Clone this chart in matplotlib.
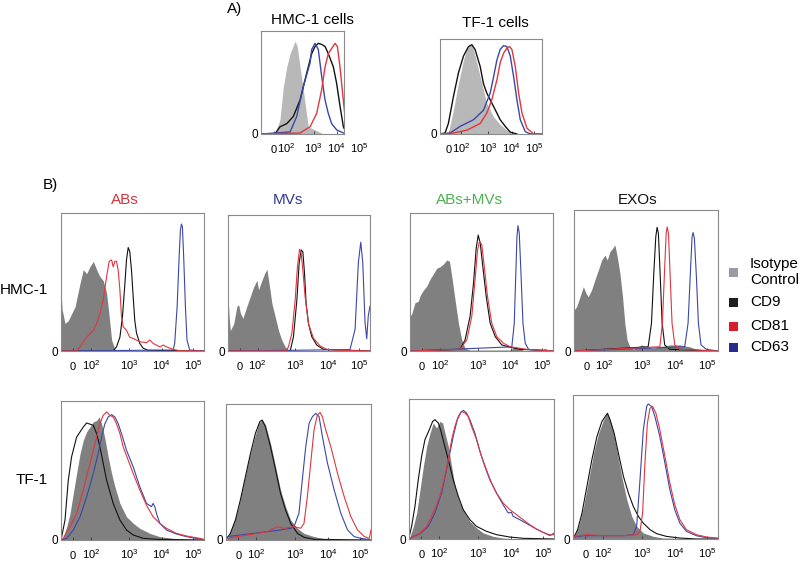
import matplotlib
matplotlib.use('Agg')
import matplotlib.pyplot as plt
from matplotlib.patches import Rectangle

plt.rcParams['font.family'] = ['Liberation Sans', 'DejaVu Sans']
plt.rcParams['mathtext.default'] = 'regular'

# x 轴：0-1000 通道，刻度对应 0, 10^2 ... 10^5
TICK_POS = [85, 208, 475, 703, 925]
TICK_LABELS = ['0', '$10^2$', '$10^3$', '$10^4$', '$10^5$']

MARKERS = ['Isotype\nControl', 'CD9', 'CD81', 'CD63']
MARKER_COLORS = ['#9b9ba8', '#1e1e1e', '#d81e2c', '#262b8c']
COLUMNS = ['ABs', 'MVs', 'ABs+MVs', 'EXOs']
COLUMN_COLORS = ['#d4343c', '#2e3a8c', '#4cb050', '#111111']
ROWS = ['HMC-1', 'TF-1']

# ---- A) HMC-1 cells ----
A_HMC_ISO_X = [0, 137, 186, 219, 252, 285, 317, 334, 356, 383, 415, 441, 464, 530, 611, 814]
A_HMC_ISO_Y = [0, 0, 14, 46, 65, 78, 86, 90, 85, 65, 43, 23, 7, 4, 0, 0]
A_HMC_CD9_X = [0, 137, 186, 252, 317, 383, 448, 497, 530, 562, 595, 628, 660, 710, 742, 775, 808, 840, 857]
A_HMC_CD9_Y = [0, 0, 7, 10, 17, 33, 59, 78, 85, 88, 87, 85, 78, 65, 49, 27, 7, 0, 0]
A_HMC_CD81_X = [0, 383, 481, 546, 595, 628, 660, 693, 726, 749, 775, 801, 824, 857]
A_HMC_CD81_Y = [0, 1, 7, 20, 43, 65, 78, 83, 88, 85, 65, 39, 17, 4]
A_HMC_CD63_X = [0, 285, 350, 415, 481, 497, 530, 562, 595, 628, 660, 693, 742, 808]
A_HMC_CD63_Y = [0, 2, 17, 46, 69, 82, 88, 82, 56, 33, 20, 10, 4, 1]

# ---- A) TF-1 cells ----
A_TF_ISO_X = [0, 82, 131, 180, 230, 262, 295, 321, 361, 410, 459, 525, 590, 656, 722, 787]
A_TF_ISO_Y = [0, 1, 25, 53, 78, 89, 94, 92, 75, 53, 32, 18, 10, 4, 1, 0]
A_TF_CD9_X = [0, 49, 82, 131, 180, 230, 279, 312, 344, 394, 426, 459, 492, 525, 558, 590, 640, 689, 754]
A_TF_CD9_Y = [0, 1, 11, 39, 64, 82, 92, 94, 89, 71, 53, 43, 36, 29, 22, 15, 8, 2, 0]
A_TF_CD81_X = [0, 131, 262, 394, 459, 508, 558, 590, 623, 656, 682, 705, 738, 771, 804, 853, 918, 1000]
A_TF_CD81_Y = [0, 1, 4, 11, 22, 36, 57, 75, 85, 90.5, 92, 89, 71, 43, 22, 6, 0, 0]
A_TF_CD63_X = [0, 98, 197, 328, 426, 492, 525, 558, 590, 623, 656, 689, 722, 754, 787, 836, 886, 1000]
A_TF_CD63_Y = [0, 1, 8, 15, 25, 43, 60, 78, 89, 93, 92, 82, 60, 36, 15, 2.5, 0, 0]

# ---- B) HMC-1, ABs ----
H_ABS_ISO_X = [0, 8, 28, 51, 74, 98, 133, 156, 179, 202, 226, 249, 272, 295, 319, 337, 354, 377, 412]
H_ABS_ISO_Y = [44, 30, 20, 22, 27, 32, 49, 59, 56, 61, 65, 59, 54, 51, 42, 25, 8, 1, 0]
H_ABS_CD9_X = [0, 365, 388, 412, 430, 447, 458, 470, 481, 493, 505, 516, 528, 551, 575, 609, 1000]
H_ABS_CD9_Y = [0, 0, 3, 10, 25, 49, 66, 75, 72, 58.5, 39, 22, 13, 5.5, 2, 0.5, 0]
H_ABS_CD81_X = [0, 109, 133, 179, 226, 249, 272, 295, 319, 337, 354, 365, 377, 388, 400, 412, 423, 435,
                458, 481, 505, 551, 598, 621, 644, 667, 691, 714, 737, 784, 830, 1000]
H_ABS_CD81_Y = [0, 0, 3, 10, 15, 20, 27, 37, 54, 65, 66, 61, 65, 65, 58.5, 44, 25, 17.6,
                15, 10, 9, 6.7, 6, 8, 5.5, 4.3, 3, 4.3, 3, 1.2, 0.2, 0]
H_ABS_CD63_X = [0, 784, 795, 812, 826, 835, 842, 849, 858, 870, 881, 900, 1000]
H_ABS_CD63_Y = [0, 0.7, 5.5, 32, 68, 87.5, 92, 90, 68, 32, 8, 0.7, 0]

# ---- B) HMC-1, MVs ----
H_MVS_ISO_X = [0, 8, 16, 40, 63, 75, 87, 105, 133, 157, 180, 204, 215, 239, 262, 274, 293, 309, 333,
               356, 379, 403, 426, 460]
H_MVS_ISO_Y = [42, 25, 15, 20, 33, 34, 28, 24, 33, 40, 47, 52, 45, 52, 58, 60, 47, 35, 25,
               15, 8, 3, 0.7, 0]
H_MVS_CD9_X = [0, 438, 461, 485, 501, 515, 527, 539, 550, 567, 590, 625, 672, 1000]
H_MVS_CD9_Y = [0, 0, 10.5, 37.5, 64.5, 74.3, 73, 57, 35, 20, 10.5, 4.4, 1.2, 0]
H_MVS_CD81_X = [0, 410, 426, 450, 473, 489, 504, 515, 527, 543, 567, 602, 649, 696, 742, 1000]
H_MVS_CD81_Y = [0, 0, 3.2, 13, 37.5, 62, 74.8, 71.8, 59.6, 40, 20, 9.3, 3.7, 1.2, 0.7, 0]
H_MVS_CD63_X = [0, 859, 895, 918, 935, 949, 965, 977, 988, 1000]
H_MVS_CD63_Y = [0, 1, 16, 65, 80, 65, 21, 9, 26, 33]

# ---- B) HMC-1, ABs+MVs ----
H_MIX_ISO_X = [0, 12, 35, 58, 70, 93, 117, 140, 164, 187, 210, 234, 257, 276, 292, 315, 339, 362, 385,
               420, 700, 735, 770, 800, 910, 945, 980]
H_MIX_ISO_Y = [25, 27, 35, 36, 40, 44, 47, 52, 56, 60, 61, 63, 66, 65, 54, 37, 20, 8, 2,
               0.7, 0.7, 3, 2, 0, 0, 2, 0]
H_MIX_CD9_X = [0, 350, 385, 420, 444, 463, 477, 491, 509, 533, 561, 596, 642, 701, 771, 1000]
H_MIX_CD9_Y = [0, 1.2, 8, 25, 49, 74.6, 84, 78.2, 61.3, 39.5, 20, 10.4, 4.4, 2.7, 1.2, 0]
H_MIX_CD81_X = [0, 350, 397, 432, 455, 472, 486, 502, 519, 542, 572, 607, 654, 701, 771, 818, 1000]
H_MIX_CD81_Y = [0, 1.2, 8, 25, 51.6, 73, 79.4, 77, 61.3, 39.5, 20, 10.4, 5.6, 3.1, 1.9, 1.2, 0]
H_MIX_CD63_X = [0, 712, 729, 740, 748, 755, 764, 776, 790, 806, 829, 1000]
H_MIX_CD63_Y = [0, 3, 20, 56.4, 83, 90.8, 85.5, 56.4, 20, 5.6, 1.2, 0]

# ---- B) HMC-1, EXOs ----
H_EXO_ISO_X = [0, 18, 42, 65, 83, 99, 122, 145, 169, 192, 215, 231, 249, 268, 284, 300, 319, 337, 353,
               369, 388, 411, 469, 503, 550, 596, 665, 734, 803, 850, 896, 1000]
H_EXO_ISO_Y = [29, 31.4, 38.5, 45.6, 41, 38.5, 43.3, 50.4, 57.4, 64.5, 68, 64.5, 70.4, 72.8, 75.2, 67, 55,
               38.5, 19.6, 7.8, 3, 1.2, 4.3, 3, 1.9, 3, 4.3, 4.3, 3, 1.2, 0.2, 0]
H_EXO_CD9_X = [0, 515, 538, 554, 568, 577, 586, 598, 612, 630, 665, 1000]
H_EXO_CD9_Y = [0, 3, 19.6, 55, 81, 87.7, 83.5, 55, 19.6, 4.3, 1.2, 0]
H_EXO_CD81_X = [0, 596, 614, 628, 640, 647, 656, 667, 681, 700, 734, 1000]
H_EXO_CD81_Y = [0, 3, 19.6, 55, 83.5, 88, 83.5, 55, 19.6, 4.3, 1.2, 0]
H_EXO_CD63_X = [0, 769, 792, 808, 820, 827, 836, 850, 864, 882, 919, 1000]
H_EXO_CD63_Y = [0, 3, 19.6, 55, 81, 84, 80, 52.7, 19.6, 4.3, 1.2, 0]

# ---- B) TF-1, ABs ----
T_ABS_ISO_X = [0, 16, 40, 63, 86, 109, 133, 156, 179, 202, 226, 249, 267, 284, 307, 330, 354, 377, 412,
               458, 505, 551, 621, 691, 784, 877, 1000]
T_ABS_ISO_Y = [0, 2.4, 9.6, 19, 33.5, 47.8, 62, 71.8, 77.8, 81.3, 85, 86, 88.5, 83.7, 73, 59.8, 47.8, 38.3,
               26.3, 16.7, 12, 8.4, 4.8, 2.4, 1.2, 0.5, 0]
T_ABS_CD9_X = [0, 5, 28, 51, 74, 109, 156, 179, 226, 249, 272, 319, 365, 412, 458, 505, 575, 668, 1000]
T_ABS_CD9_Y = [0, 2.4, 14.4, 43, 59.8, 74, 81.3, 84.2, 82.5, 76.6, 67, 43, 26.3, 14.4, 7.2, 3.6, 1.2, 0.5, 0]
T_ABS_CD81_X = [0, 16, 63, 109, 156, 191, 226, 249, 272, 295, 319, 342, 365, 388, 412, 435, 470, 505, 551,
                598, 644, 691, 737, 807, 877, 970, 1000]
T_ABS_CD81_Y = [0, 1.2, 9.6, 19, 36, 50.2, 64.6, 74.2, 83.7, 89.7, 92.1, 89.7, 88.5, 83.7, 76.6, 67, 57.4,
                47.8, 36, 25, 16.7, 12, 8.4, 4.8, 2.9, 1.2, 0.5]
T_ABS_CD63_X = [0, 40, 86, 133, 179, 226, 260, 284, 307, 330, 354, 377, 400, 423, 458, 505, 551, 598, 633,
                644, 656, 668, 691, 737, 807, 877, 970, 1000]
T_ABS_CD63_Y = [0, 1.2, 7.2, 16.7, 31, 47.8, 62.2, 74.2, 83.7, 88.5, 90.2, 88.5, 83.7, 76.6, 64.6, 52.6,
                38.3, 26.3, 24, 26.3, 24, 19, 12, 7.2, 4.3, 2.4, 0.7, 0]

# ---- B) TF-1, MVs ----
T_MVS_ISO_X = [0, 18, 53, 88, 122, 157, 192, 226, 249, 272, 307, 342, 376, 411, 446, 492, 538, 607, 677,
               746, 1000]
T_MVS_ISO_Y = [0, 2.5, 12.3, 24.5, 41.7, 58.8, 73.5, 85.8, 88.7, 84.6, 71, 53.9, 36.8, 24.5, 14.7, 8.6,
               4.9, 2.5, 1, 0.5, 0]
T_MVS_CD9_X = [0, 7, 30, 65, 99, 134, 169, 203, 233, 249, 272, 307, 342, 376, 411, 446, 492, 538, 607, 1000]
T_MVS_CD9_Y = [0, 1.2, 4.9, 14.7, 29.4, 46.6, 63.7, 78.4, 87, 88.2, 83.3, 68.6, 51.5, 34.3, 22, 12.3,
               4.9, 2, 0.5, 0]
T_MVS_CD81_X = [0, 7, 99, 192, 284, 353, 399, 469, 515, 538, 561, 584, 607, 630, 649, 665, 688, 723, 769,
                815, 861, 907, 954, 988, 1000]
T_MVS_CD81_Y = [0, 1.2, 2.9, 4.4, 6.1, 9.8, 8.6, 9.8, 8.6, 12.3, 31.9, 56.4, 80.9, 91.9, 93.8, 90.7, 80.9,
                68.6, 49, 31.9, 17.2, 7.4, 2.5, 1.2, 7.4]
T_MVS_CD63_X = [0, 7, 99, 192, 284, 376, 446, 469, 503, 526, 550, 573, 596, 619, 642, 665, 700, 746, 792,
                838, 884, 931, 977, 1000]
T_MVS_CD63_Y = [0, 2.5, 3.7, 4.9, 6.1, 7.4, 8.6, 9.8, 19.6, 44.1, 68.6, 85.8, 90.7, 93.1, 90.7, 76, 56.4,
                36.8, 19.6, 7.4, 2.5, 1.2, 0.5, 0]

# ---- B) TF-1, ABs+MVs ----
T_MIX_ISO_X = [0, 7, 30, 53, 76, 99, 122, 145, 167, 190, 213, 232, 248, 271, 294, 317, 351, 385, 420, 466,
               512, 580, 649, 718, 1000]
T_MIX_ISO_Y = [0, 1.9, 9, 18.6, 35.2, 51.9, 66.2, 75.7, 82.9, 79.3, 84, 82.9, 75.7, 66.2, 51.9, 37.6,
               25.7, 18.6, 12.6, 7.9, 4.3, 1.9, 0.7, 0.2, 0]
T_MIX_CD9_X = [0, 2, 18, 41, 64, 87, 110, 140, 163, 179, 202, 218, 241, 271, 305, 340, 374, 420, 466, 534,
               603, 695, 787, 1000]
T_MIX_CD9_Y = [0, 1.9, 9, 23.3, 42.4, 59, 71, 78, 84, 85.2, 82.9, 78, 68.6, 56.7, 42.4, 30.5, 21, 13.8,
               9, 5.5, 3.1, 1.4, 0.5, 0]
T_MIX_CD81_X = [0, 7, 76, 122, 167, 213, 248, 271, 294, 317, 340, 362, 385, 408, 431, 466, 500, 534, 569,
                603, 649, 695, 741, 787, 833, 879, 924, 970, 1000]
T_MIX_CD81_Y = [0, 0.7, 4.3, 9, 18.6, 30.5, 44.8, 56.7, 71, 80.5, 87.6, 91.2, 90, 87.6, 80.5, 71, 59,
                49.5, 40, 32.9, 25.7, 21, 17.4, 13.8, 10.2, 7.1, 4.8, 2.4, 4.3]
T_MIX_CD63_X = [0, 7, 76, 133, 179, 225, 259, 282, 305, 333, 356, 374, 397, 420, 454, 489, 523, 557, 603,
                649, 684, 707, 718, 764, 833, 879, 924, 970, 1000]
T_MIX_CD63_Y = [0, 0.7, 3.8, 9, 18.6, 32.9, 49.5, 61.4, 73.3, 85.2, 90, 91.9, 90, 85.2, 75.7, 62.6, 51.9,
                42.4, 32.9, 24.5, 18.6, 19, 16.2, 13.8, 9.8, 7.1, 4.8, 2.9, 3.1]

# ---- B) TF-1, EXOs ----
T_EXO_ISO_X = [0, 9, 39, 73, 108, 142, 176, 210, 233, 252, 275, 302, 336, 371, 405, 439, 485, 554, 622, 1000]
T_EXO_ISO_Y = [0, 1.8, 8.8, 22.6, 41.1, 59.6, 73.4, 82.7, 87.3, 83.8, 75.8, 61.9, 43.4, 27.3, 15.7, 8.8,
               4.2, 1.8, 0.7, 0]
T_EXO_CD9_X = [0, 9, 32, 62, 96, 130, 165, 199, 222, 238, 256, 284, 313, 348, 382, 416, 451, 485, 531, 577,
               645, 737, 851, 1000]
T_EXO_CD9_Y = [0, 1.8, 6.5, 18, 36.5, 55, 71.1, 81.5, 85, 87.3, 82.7, 73.4, 59.6, 43.4, 31.9, 22.6, 15.7,
               11, 6.5, 3.7, 1.8, 0.7, 0, 0]
T_EXO_CD81_X = [0, 9, 96, 210, 348, 439, 462, 480, 496, 513, 531, 549, 572, 599, 634, 668, 702, 737, 782,
                851, 920, 1000]
T_EXO_CD81_Y = [0, 1.8, 3, 2.3, 2.3, 3, 5.3, 18, 52.7, 80.4, 90.8, 92, 87.3, 75.8, 57.3, 38.8, 23.8, 13.4,
                6.5, 3, 1.4, 0.5]
T_EXO_CD63_X = [0, 9, 73, 210, 348, 416, 439, 462, 485, 508, 519, 542, 565, 599, 634, 668, 702, 737, 782,
                851, 920, 1000]
T_EXO_CD63_Y = [0, 1.4, 2.3, 2.3, 2.3, 3, 8.8, 41.1, 75.8, 92, 93.8, 92, 85, 71.1, 52.7, 34.2, 20.3, 11,
                5.3, 2.3, 0.9, 0.5]

W, H = 800, 561
fig = plt.figure(figsize=(W / 100, H / 100), dpi=100)


def px_axes(left, right, top, bottom):
    """按像素框 (左, 右, 上, 下) 新建坐标轴。"""
    return fig.add_axes([left / W, 1 - bottom / H, (right - left) / W, (bottom - top) / H])


def draw_panel(box, curves, fill_color, lw, xmax=1000, tick_shift=0):
    ax = px_axes(*box)
    (ix, iy), c9, c81, c63 = curves
    ax.fill_between(ix, iy, 0, color=fill_color, lw=0)
    ax.plot(*c9, color='#111111', lw=lw)
    ax.plot(*c63, color='#3b47a6', lw=lw)
    ax.plot(*c81, color='#e0363f', lw=lw)
    ax.set_xlim(0, xmax)
    ax.set_ylim(0, 100)
    ticks = [t + tick_shift for t in TICK_POS]
    shown = [(t, l) for t, l in zip(ticks, TICK_LABELS) if t <= xmax]
    ax.set_xticks([t for t, _ in shown], [l for _, l in shown], va='baseline')
    for t, l in zip(ticks, TICK_LABELS):
        if t > xmax:
            ax.annotate(l, xy=(t, 0), xycoords=('data', 'axes fraction'), xytext=(0, -13.5),
                        textcoords='offset points', ha='center', va='baseline', fontsize=8,
                        annotation_clip=False)
    ax.tick_params(axis='x', direction='in', length=2.5, width=0.6, color='#333333',
                   pad=13.5, labelsize=8)
    ax.set_yticks([0], ['0'])
    ax.tick_params(axis='y', length=0, pad=2, labelsize=8.5)
    for sp in ax.spines.values():
        sp.set_color('#8a8a8a')
        sp.set_linewidth(0.8)
    return ax


# A) 细胞
draw_panel((261, 344, 31, 134),
           [(A_HMC_ISO_X, A_HMC_ISO_Y), (A_HMC_CD9_X, A_HMC_CD9_Y),
            (A_HMC_CD81_X, A_HMC_CD81_Y), (A_HMC_CD63_X, A_HMC_CD63_Y)],
           '#b8b8b8', 1.0, xmax=814, tick_shift=40)
draw_panel((440, 542, 39, 134),
           [(A_TF_ISO_X, A_TF_ISO_Y), (A_TF_CD9_X, A_TF_CD9_Y),
            (A_TF_CD81_X, A_TF_CD81_Y), (A_TF_CD63_X, A_TF_CD63_Y)],
           '#b8b8b8', 1.0)

# B) 囊泡
b_boxes = [
    [(61, 204, 213, 351), (228, 370, 215, 351), (410, 553, 213, 351), (574, 718, 210, 351)],
    [(61, 204, 401, 540), (226, 371, 404, 540), (409, 554, 399, 539), (573, 718, 395, 539)],
]
b_curves = [
    [
        [(H_ABS_ISO_X, H_ABS_ISO_Y), (H_ABS_CD9_X, H_ABS_CD9_Y), (H_ABS_CD81_X, H_ABS_CD81_Y), (H_ABS_CD63_X, H_ABS_CD63_Y)],
        [(H_MVS_ISO_X, H_MVS_ISO_Y), (H_MVS_CD9_X, H_MVS_CD9_Y), (H_MVS_CD81_X, H_MVS_CD81_Y), (H_MVS_CD63_X, H_MVS_CD63_Y)],
        [(H_MIX_ISO_X, H_MIX_ISO_Y), (H_MIX_CD9_X, H_MIX_CD9_Y), (H_MIX_CD81_X, H_MIX_CD81_Y), (H_MIX_CD63_X, H_MIX_CD63_Y)],
        [(H_EXO_ISO_X, H_EXO_ISO_Y), (H_EXO_CD9_X, H_EXO_CD9_Y), (H_EXO_CD81_X, H_EXO_CD81_Y), (H_EXO_CD63_X, H_EXO_CD63_Y)],
    ],
    [
        [(T_ABS_ISO_X, T_ABS_ISO_Y), (T_ABS_CD9_X, T_ABS_CD9_Y), (T_ABS_CD81_X, T_ABS_CD81_Y), (T_ABS_CD63_X, T_ABS_CD63_Y)],
        [(T_MVS_ISO_X, T_MVS_ISO_Y), (T_MVS_CD9_X, T_MVS_CD9_Y), (T_MVS_CD81_X, T_MVS_CD81_Y), (T_MVS_CD63_X, T_MVS_CD63_Y)],
        [(T_MIX_ISO_X, T_MIX_ISO_Y), (T_MIX_CD9_X, T_MIX_CD9_Y), (T_MIX_CD81_X, T_MIX_CD81_Y), (T_MIX_CD63_X, T_MIX_CD63_Y)],
        [(T_EXO_ISO_X, T_EXO_ISO_Y), (T_EXO_CD9_X, T_EXO_CD9_Y), (T_EXO_CD81_X, T_EXO_CD81_Y), (T_EXO_CD63_X, T_EXO_CD63_Y)],
    ],
]
for boxes, curves in zip(b_boxes, b_curves):
    for box, cv in zip(boxes, curves):
        draw_panel(box, cv, '#808080', 0.8)


def ftext(x, y, s, **kw):
    fig.text(x / W, 1 - y / H, s, **kw)


ftext(227, 9, 'A)', ha='left', va='center', fontsize=11)
ftext(312, 20, 'HMC-1 cells', ha='center', va='center', fontsize=11)
ftext(495, 23, 'TF-1 cells', ha='center', va='center', fontsize=11)
ftext(43, 185, 'B)', ha='left', va='center', fontsize=11)
for x, name, col in zip([125, 288, 469, 638], COLUMNS, COLUMN_COLORS):
    ftext(x, 200, name, ha='center', va='center', fontsize=11, color=col)
for y, name in zip([290, 480], ROWS):
    ftext(48, y, name, ha='right', va='center', fontsize=11)

# 图例
for y, name, col in zip([272, 302, 326, 347], MARKERS, MARKER_COLORS):
    fig.add_artist(Rectangle((729 / W, 1 - (y + 4.5) / H), 9 / W, 9 / H,
                             transform=fig.transFigure, color=col, lw=0))
    ftext(750, y, name, ha='left', va='center', fontsize=11, linespacing=1.25)

fig.savefig('out.png', dpi=100, facecolor='white')
